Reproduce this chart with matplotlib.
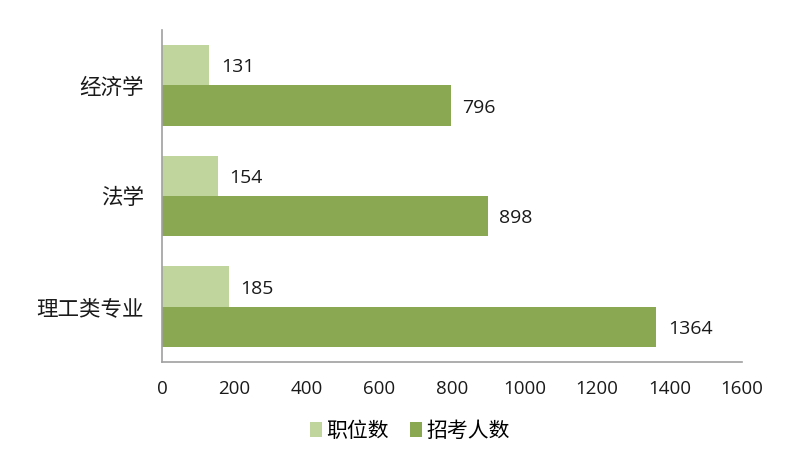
import numpy as np
import matplotlib.pyplot as plt

plt.rcParams['font.family'] = ['Noto Sans CJK SC', 'DejaVu Sans']

categories = ["经济学", "法学", "理工类专业"]
positions = [131, 154, 185]
applicants = [796, 898, 1364]
series_names = ["职位数", "招考人数"]

light = "#C0D59E"
dark = "#8AA752"
num_font = ["Open Sans", "DejaVu Sans"]

fig = plt.figure(figsize=(8.03, 4.59), dpi=100)
ax = fig.add_axes([162 / 803, 1 - 362 / 459, (742 - 162) / 803, (362 - 30) / 459])

y = np.arange(len(categories))
h = 0.364

b1 = ax.barh(y - h / 2, positions, height=h, color=light, label=series_names[0])
b2 = ax.barh(y + h / 2, applicants, height=h, color=dark, label=series_names[1])

for bars, vals in ((b1, positions), (b2, applicants)):
    for bar, v in zip(bars, vals):
        ax.text(bar.get_width() + 32, bar.get_y() + bar.get_height() / 2 + 0.02, str(v),
                va="center", ha="left", fontsize=14, color="#1a1a1a",
                family=num_font)

ax.set_yticks(y)
ax.set_yticklabels(categories, fontsize=15.5, color="#1a1a1a")
ax.set_ylim(2.5, -0.5)
ax.set_xlim(0, 1600)
ax.set_xticks(range(0, 1601, 200))
ax.set_xticklabels([str(t) for t in range(0, 1601, 200)], fontsize=13.5,
                   color="#1a1a1a", family=num_font)

for s in ["top", "right"]:
    ax.spines[s].set_visible(False)
for s in ["left", "bottom"]:
    ax.spines[s].set_color("#A0A0A0")
    ax.spines[s].set_linewidth(1.2)
ax.tick_params(axis="both", length=0)
ax.tick_params(axis="x", pad=13)
ax.tick_params(axis="y", pad=13)

ax.legend(loc="center", bbox_to_anchor=(410 / 803, 1 - 431 / 459),
          bbox_transform=fig.transFigure, ncol=2, frameon=False,
          fontsize=15, handlelength=0.6, handleheight=0.7,
          handletextpad=0.2, columnspacing=1.0)

fig.savefig("out.png", dpi=100)
